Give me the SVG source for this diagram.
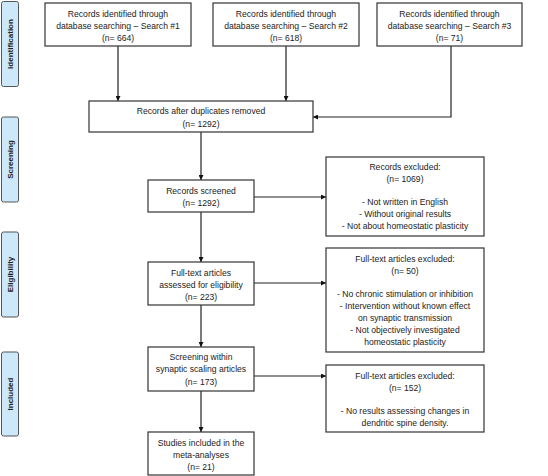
<svg xmlns="http://www.w3.org/2000/svg" width="548" height="476" viewBox="0 0 548 476">
<style>
.box{fill:#fff;stroke:#333;stroke-width:1.2}
.tab{fill:#cde8f9;stroke:#555;stroke-width:1}
.t{font-family:"Liberation Sans",Arial,sans-serif;font-size:8.6px;fill:#222;text-anchor:middle}
.tl{font-family:"Liberation Sans",Arial,sans-serif;font-size:8px;font-weight:bold;fill:#222;text-anchor:middle}
.c{fill:none;stroke:#222;stroke-width:1.2}
</style>
<defs>
<marker id="ah" viewBox="0 0 10 10" refX="10" refY="5" markerWidth="5" markerHeight="5" orient="auto" markerUnits="userSpaceOnUse">
<path d="M0,0 L10,5 L0,10 z" fill="#111"/>
</marker>
</defs>
<rect x="0" y="0" width="548" height="476" fill="#fff"/>
<g id="tabs">
<g id="tab-identification"><rect class="tab" x="1.5" y="1.5" width="17" height="85" rx="2"/><text class="tl" transform="translate(13,44) rotate(-90)">Identification</text></g>
<g id="tab-screening"><rect class="tab" x="1.5" y="117" width="17" height="85" rx="2"/><text class="tl" transform="translate(13,159.5) rotate(-90)">Screening</text></g>
<g id="tab-eligibility"><rect class="tab" x="1.5" y="232" width="17" height="85" rx="2"/><text class="tl" transform="translate(13,274.5) rotate(-90)">Eligibility</text></g>
<g id="tab-included"><rect class="tab" x="1.5" y="352" width="17" height="84" rx="2"/><text class="tl" transform="translate(13,394) rotate(-90)">Included</text></g>
</g>
<g id="connectors">
<path class="c" d="M118,46 V101" marker-end="url(#ah)"/>
<path class="c" d="M286,46 V101" marker-end="url(#ah)"/>
<path class="c" d="M451,46 V117 H313" marker-end="url(#ah)"/>
<path class="c" d="M201,132 V180" marker-end="url(#ah)"/>
<path class="c" d="M254,197 H326" marker-end="url(#ah)"/>
<path class="c" d="M201,212 V262" marker-end="url(#ah)"/>
<path class="c" d="M254,283 H326" marker-end="url(#ah)"/>
<path class="c" d="M201,305 V347" marker-end="url(#ah)"/>
<path class="c" d="M254,376 H326" marker-end="url(#ah)"/>
<path class="c" d="M201,391 V432" marker-end="url(#ah)"/>
</g>
<g id="search1"><rect class="box" x="45" y="3" width="146" height="43"/>
<text class="t" x="118" y="17">Records identified through</text>
<text class="t" x="118" y="29">database searching – Search #1</text>
<text class="t" x="118" y="41">(n= 664)</text></g>
<g id="search2"><rect class="box" x="213" y="3" width="146" height="43"/>
<text class="t" x="286" y="17">Records identified through</text>
<text class="t" x="286" y="29">database searching – Search #2</text>
<text class="t" x="286" y="41">(n= 618)</text></g>
<g id="search3"><rect class="box" x="377" y="3" width="145" height="43"/>
<text class="t" x="449.5" y="17">Records identified through</text>
<text class="t" x="449.5" y="29">database searching – Search #3</text>
<text class="t" x="449.5" y="41">(n= 71)</text></g>
<g id="duplicates"><rect class="box" x="89" y="101" width="224" height="31"/>
<text class="t" x="201" y="114">Records after duplicates removed</text>
<text class="t" x="201" y="127">(n= 1292)</text></g>
<g id="screened"><rect class="box" x="148" y="180" width="106" height="32"/>
<text class="t" x="201" y="194">Records screened</text>
<text class="t" x="201" y="206">(n= 1292)</text></g>
<g id="excluded1"><rect class="box" x="326" y="157" width="158" height="79"/>
<text class="t" x="405" y="170">Records excluded:</text>
<text class="t" x="405" y="182">(n= 1069)</text>
<text class="t" x="405" y="205">- Not written in English</text>
<text class="t" x="405" y="217">- Without original results</text>
<text class="t" x="405" y="229">- Not about homeostatic plasticity</text></g>
<g id="fulltext"><rect class="box" x="148" y="262" width="106" height="43"/>
<text class="t" x="201" y="276">Full-text articles</text>
<text class="t" x="201" y="288">assessed for eligibility</text>
<text class="t" x="201" y="300">(n= 223)</text></g>
<g id="excluded2"><rect class="box" x="326" y="248" width="158" height="104"/>
<text class="t" x="405" y="262">Full-text articles excluded:</text>
<text class="t" x="405" y="274">(n= 50)</text>
<text class="t" x="405" y="297">- No chronic stimulation or inhibition</text>
<text class="t" x="405" y="309">- Intervention without known effect</text>
<text class="t" x="405" y="321">on synaptic transmission</text>
<text class="t" x="405" y="333">- Not objectively investigated</text>
<text class="t" x="405" y="345">homeostatic plasticity</text></g>
<g id="scaling"><rect class="box" x="148" y="347" width="106" height="44"/>
<text class="t" x="201" y="360">Screening within</text>
<text class="t" x="201" y="372">synaptic scaling articles</text>
<text class="t" x="201" y="385">(n= 173)</text></g>
<g id="excluded3"><rect class="box" x="326" y="365" width="158" height="67"/>
<text class="t" x="405" y="379">Full-text articles excluded:</text>
<text class="t" x="405" y="391">(n= 152)</text>
<text class="t" x="405" y="414">- No results assessing changes in</text>
<text class="t" x="405" y="426">dendritic spine density.</text></g>
<g id="included"><rect class="box" x="148" y="432" width="106" height="43"/>
<text class="t" x="201" y="446">Studies included in the</text>
<text class="t" x="201" y="458">meta-analyses</text>
<text class="t" x="201" y="470">(n= 21)</text></g>
</svg>
